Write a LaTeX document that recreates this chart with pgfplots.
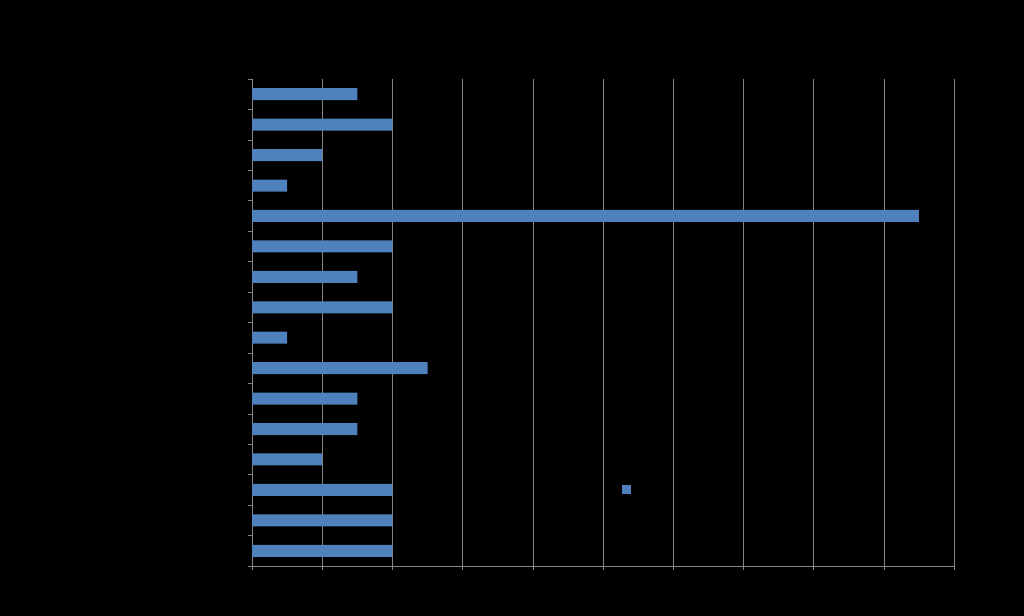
\documentclass[border=0pt]{standalone}
\usepackage{pgfplots}
\pgfplotsset{compat=1.18}
\definecolor{barblue}{HTML}{4F81BD}
\definecolor{axgray}{HTML}{868686}
\pgfplotstableread{
pos val
0 3
1 4
2 2
3 1
4 19
5 4
6 3
7 4
8 1
9 5
10 3
11 3
12 2
13 4
14 4
15 4
}\datatable
\begin{document}
\begin{tikzpicture}[x=1bp,y=1bp]
\fill[black] (0,0) rectangle (1024,616);
\begin{axis}[
  at={(252bp,50bp)}, anchor=south west,
  scale only axis, width=702bp, height=487bp,
  xmin=0, xmax=20, ymin=-0.5, ymax=15.5, y dir=reverse,
  axis x line*=bottom, axis y line*=left,
  axis line style={draw=axgray, line width=0.8pt},
  xtick={0,2,...,20}, xticklabels={},
  ytick={-0.5,0.5,...,15.5}, yticklabels={},
  tick align=outside, major tick length=4bp,
  tick style={draw=axgray, line width=0.6pt},
  xmajorgrids, grid style={draw=axgray, line width=0.6pt},
  legend style={at={(0.537,0.158)}, anchor=center, draw=none, fill=none, text=black},
  legend image code/.code={\fill[barblue] (-4.5bp,-4.5bp) rectangle (4.5bp,4.5bp);},
]
\addplot[xbar, bar width=12bp, fill=barblue, draw=none] table[x=val, y=pos] {\datatable};
\addlegendentry{}
\end{axis}
\end{tikzpicture}
\end{document}
